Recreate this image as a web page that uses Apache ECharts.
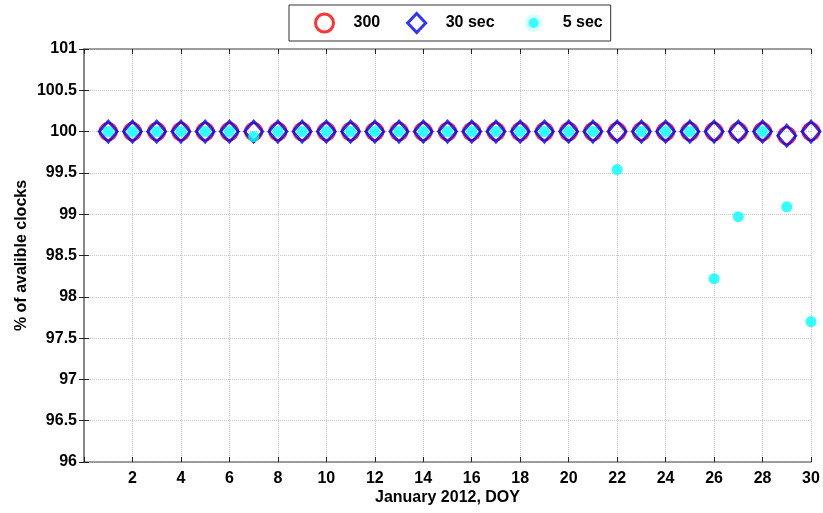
<!DOCTYPE html>
<html>
<head>
<meta charset="utf-8">
<script src="https://cdn.jsdelivr.net/npm/echarts@6/dist/echarts.min.js"></script>
<style>html,body{margin:0;padding:0;background:#fff}#c{width:823px;height:513px}</style>
</head>
<body>
<div id="c"></div>
<script>
const days = [1,2,3,4,5,6,7,8,9,10,11,12,13,14,15,16,17,18,19,20,21,22,23,24,25,26,27,28,29,30];
const s300 = [100,100,100,100,100,100,100,100,100,100,100,100,100,100,100,100,100,100,100,100,100,100,100,100,100,100,100,100,99.95,100];
const s30sec = [100,100,100,100,100,100,100,100,100,100,100,100,100,100,100,100,100,100,100,100,100,100,100,100,100,100,100,100,99.95,100];
const s5sec = [100,100,100,100,100,100,99.94,100,100,100,100,100,100,100,100,100,100,100,100,100,100,99.54,100,100,100,98.22,98.97,100,99.09,97.70];
const xTicks = [2,4,6,8,10,12,14,16,18,20,22,24,26,28,30];
const yTicks = [96,96.5,97,97.5,98,98.5,99,99.5,100,100.5,101];
const seriesNames = ['300','30 sec','5 sec'];

const FONT = 'Liberation Sans, Arial, Helvetica, sans-serif';
const pts = arr => days.map((d,i)=>[d, arr[i]]);

const chart = echarts.init(document.getElementById('c'), null, {renderer:'canvas'});
const axisLineStyle = {color:'#808080', width:1.5};
const tickStyle = {color:'#222', width:1};
chart.setOption({
  animation:false,
  backgroundColor:'#fff',
  legend:{
    left:289, top:5,
    orient:'horizontal',
    padding:[5,8,5,25],
    itemGap:26,
    itemWidth:18, itemHeight:19,
    borderColor:'#333', borderWidth:1,
    backgroundColor:'#fff',
    textStyle:{fontFamily:FONT, fontWeight:'bold', fontSize:16, color:'#000', padding:[0,0,0,15]},
    data:[
      {name:seriesNames[0], icon:'circle', itemStyle:{color:'#fff', borderColor:'#ff0000', borderWidth:3}},
      {name:seriesNames[1], icon:'diamond', itemStyle:{color:'#fff', borderColor:'#0000ff', borderWidth:3}},
      {name:seriesNames[2], icon:'circle', itemStyle:{color:'#00ffff', borderColor:'#fff', borderWidth:8}}
    ]
  },
  grid:{left:84, right:12, top:49, bottom:51, containLabel:false},
  xAxis:[{
    type:'value', min:0, max:30, interval:2, position:'bottom',
    axisLine:{show:true, lineStyle:axisLineStyle},
    axisTick:{show:true, inside:true, length:5, lineStyle:tickStyle},
    axisLabel:{fontFamily:FONT, fontWeight:'bold', fontSize:16, color:'#000', margin:9,
      formatter:v => xTicks.indexOf(v) >= 0 ? String(v) : ''},
    splitLine:{show:true, lineStyle:{type:'dotted', color:'#c8c8c8', width:1}},
    name:'January 2012, DOY', nameLocation:'middle', nameGap:28, nameMoveOverlap:false,
    nameTextStyle:{fontFamily:FONT, fontWeight:'bold', fontSize:16, color:'#000'}
  },{
    type:'value', min:0, max:30, interval:2, position:'top',
    axisLine:{show:true, lineStyle:axisLineStyle},
    axisTick:{show:true, inside:true, length:5, lineStyle:tickStyle},
    axisLabel:{show:false}, splitLine:{show:false}
  }],
  yAxis:[{
    type:'value', min:96, max:101, interval:0.5, position:'left',
    axisLine:{show:true, lineStyle:axisLineStyle},
    axisTick:{show:true, inside:true, length:5, lineStyle:tickStyle},
    axisLabel:{fontFamily:FONT, fontWeight:'bold', fontSize:16, color:'#000', margin:7,
      formatter:v => yTicks.indexOf(v) >= 0 ? String(v) : ''},
    splitLine:{show:true, lineStyle:{type:'dotted', color:'#c8c8c8', width:1}},
    name:'% of avalible clocks', nameLocation:'middle', nameGap:54, nameMoveOverlap:false,
    nameTextStyle:{fontFamily:FONT, fontWeight:'bold', fontSize:16, color:'#000'}
  },{
    type:'value', min:96, max:101, interval:0.5, position:'right',
    axisLine:{show:true, lineStyle:axisLineStyle},
    axisTick:{show:true, inside:true, length:5, lineStyle:tickStyle},
    axisLabel:{show:false}, splitLine:{show:false}
  }],
  series:[
    {name:seriesNames[0], type:'scatter', clip:false, symbol:'circle', symbolSize:17,
     itemStyle:{color:'rgba(0,0,0,0)', borderColor:'#ff0000', borderWidth:2.5}, data:pts(s300), z:2},
    {name:seriesNames[1], type:'scatter', clip:false, symbol:'diamond', symbolSize:[18,21],
     itemStyle:{color:'rgba(0,0,0,0)', borderColor:'#0000ff', borderWidth:2.8}, data:pts(s30sec), z:3},
    {name:seriesNames[2], type:'scatter', clip:false, symbol:'circle', symbolSize:11,
     itemStyle:{color:'#00ffff'}, data:pts(s5sec), z:4}
  ]
});
</script>
</body>
</html>
